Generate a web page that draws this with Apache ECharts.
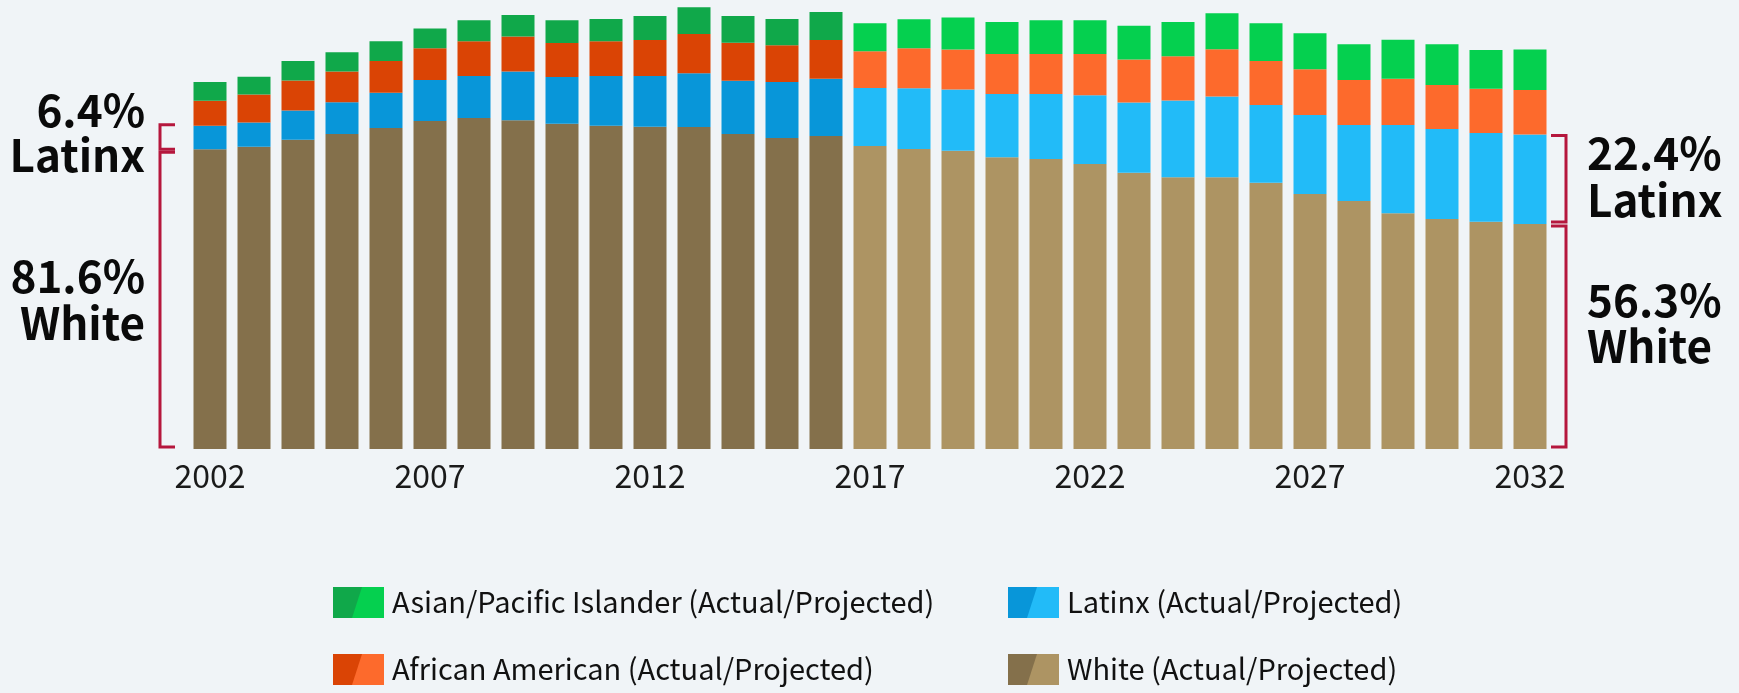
<!DOCTYPE html>
<html>
<head>
<meta charset="utf-8">
<style>
  html, body { margin: 0; padding: 0; background: #f0f4f7; }
  #chart { width: 1739px; height: 693px; }
</style>
<script src="https://cdn.jsdelivr.net/npm/echarts@6/dist/echarts.min.js"></script>
</head>
<body>
<div id="chart"></div>
<script>
// years 2002-2016 are actual, 2017-2032 projected
const years = ["2002","2003","2004","2005","2006","2007","2008","2009","2010","2011","2012","2013","2014","2015","2016",
  "2017","2018","2019","2020","2021","2022","2023","2024","2025","2026","2027","2028","2029","2030","2031","2032"];
const actualCount = 15;

const white = [299.7,302.3,309.3,315,321,328,331,328.7,325.3,323.3,322.3,322,315,311,313,
  303,300,298.3,291.7,290,285,276.3,271.7,271.7,266.3,255,248,235.7,230,227.3,225];
const latinx = [23.5,24.3,29.3,31.7,35.3,41,42,48.7,46.7,49.7,50.7,53.7,53.3,56,57.3,
  58,60.7,61.3,63.3,65,68.7,70.3,76.7,80.7,77.7,79,76,88.3,90,88.7,89.5];
const african = [25,28,30,30.7,31.7,31.7,34.7,35,34,34.7,36,39.3,38,36.7,38.7,
  36.7,40,40,40,40,41.3,43,44.3,47.3,44,45.7,45,46.3,44,44.3,44.5];
const asian = [18.8,17.7,19.3,19.3,19.7,19.7,21,21.7,22.7,22.3,24,26.7,26.7,26.3,28,
  28,29,32,32,33.7,33.7,33.7,34.3,36,37.7,36,35.7,39,40.7,38.7,40.5];

const legendNames = ["Asian/Pacific Islander (Actual/Projected)", "Latinx (Actual/Projected)",
  "African American (Actual/Projected)", "White (Actual/Projected)"];

// [actual, projected]
const colors = {
  asian: ["#10a84a", "#05d04f"],
  african: ["#da4405", "#fd6a2c"],
  latinx: ["#0896d9", "#22bbf8"],
  white: ["#84704b", "#ad9463"]
};

const font = "'Noto Sans CJK KR', 'Noto Sans', sans-serif";
const bracketColor = "#b5173d";

function makeSeries(name, data, pair) {
  return {
    name: name,
    type: "bar",
    stack: "total",
    barWidth: 33,
    data: data,
    itemStyle: {
      color: (p) => (p.dataIndex < actualCount ? pair[0] : pair[1])
    },
    silent: true
  };
}

let myChart = echarts.init(document.getElementById("chart"));
myChart.setOption({
  backgroundColor: "#f0f4f7",
  animation: false,
  grid: { left: 188, width: 1364, top: 4, height: 445 },
  xAxis: {
    type: "category",
    data: years,
    axisLine: { show: false },
    axisTick: { show: false },
    axisLabel: {
      interval: 4,
      margin: 11,
      fontSize: 32,
      fontFamily: font,
      color: "#1a1a1a"
    }
  },
  yAxis: { type: "value", min: 0, max: 445, show: false },
  series: [
    makeSeries("White", white, colors.white),
    makeSeries("Latinx", latinx, colors.latinx),
    makeSeries("African American", african, colors.african),
    makeSeries("Asian/Pacific Islander", asian, colors.asian)
  ]
});

// brackets follow the first and last bars
function yOf(idx, v) {
  return myChart.convertToPixel({ gridIndex: 0 }, [idx, v])[1];
}
function bracket(x, y1, y2, dir) {
  const t = 15 * dir;
  return {
    type: "polyline",
    shape: { points: [[x + t, y1], [x, y1], [x, y2], [x + t, y2]] },
    style: { stroke: bracketColor, lineWidth: 3, fill: null },
    silent: true
  };
}
function label(text, x, y, align) {
  return {
    type: "text",
    style: {
      text: text, x: x, y: y, textAlign: align, textVerticalAlign: "middle",
      font: "bold 44px " + font, fill: "#0a0a0a"
    },
    silent: true
  };
}

const first = 0, last = years.length - 1;
const y0 = yOf(first, 0);
const wTopL = yOf(first, white[first]);
const lTopL = yOf(first, white[first] + latinx[first]);
const wTopR = yOf(last, white[last]);
const lTopR = yOf(last, white[last] + latinx[last]);

const graphics = [
  bracket(160, lTopL - 1, wTopL, 1),
  bracket(160, wTopL + 3, y0 - 2, 1),
  bracket(1566, lTopR + 1, wTopR - 2, -1),
  bracket(1566, wTopR + 2, y0 - 2, -1),
  label("6.4%", 145, 110, "right"),
  label("Latinx", 145, 155, "right"),
  label("81.6%", 145, 276, "right"),
  label("White", 145, 323, "right"),
  label("22.4%", 1587, 153, "left"),
  label("Latinx", 1587, 200, "left"),
  label("56.3%", 1587, 300, "left"),
  label("White", 1587, 346, "left")
];

// legend: split swatch, dark = actual, light = projected
const legendPos = [[333, 587], [1008, 587], [333, 654], [1008, 654]];
const legendColors = [colors.asian, colors.latinx, colors.african, colors.white];
legendNames.forEach((name, i) => {
  const [x, y] = legendPos[i];
  graphics.push({
    type: "rect", shape: { x: x, y: y, width: 51, height: 31 },
    style: { fill: legendColors[i][1] }, silent: true
  });
  graphics.push({
    type: "polygon",
    shape: { points: [[x, y], [x + 29, y], [x + 19, y + 31], [x, y + 31]] },
    style: { fill: legendColors[i][0] }, silent: true
  });
  graphics.push({
    type: "text",
    style: {
      text: name, x: x + 59, y: y + 15, textVerticalAlign: "middle",
      font: "29px " + font, fill: "#111"
    },
    silent: true
  });
});

myChart.setOption({ graphic: graphics });
</script>
</body>
</html>
